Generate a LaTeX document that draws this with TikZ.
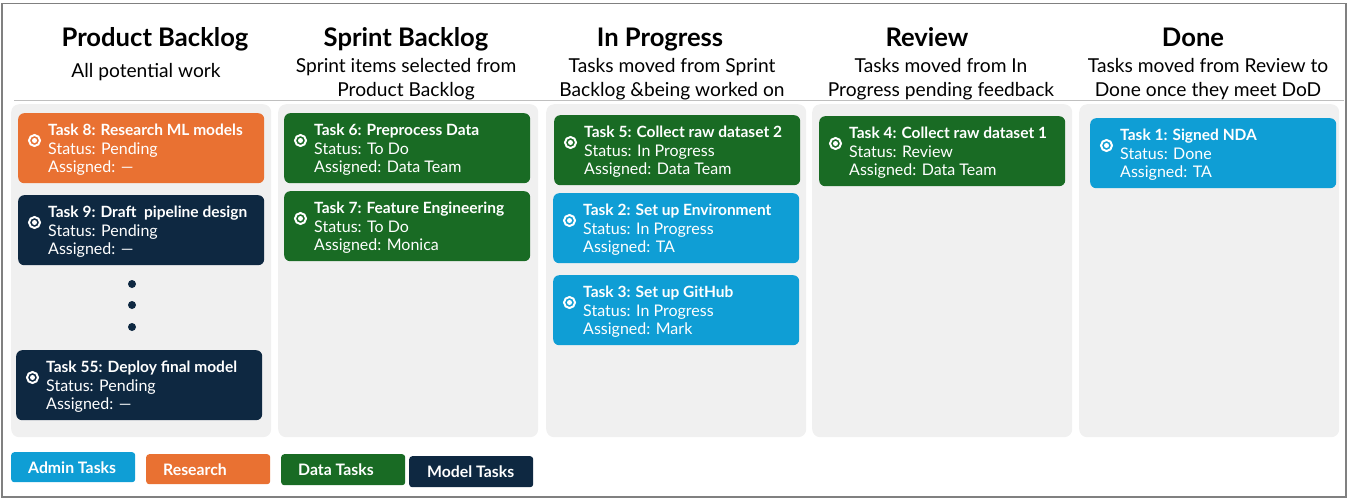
\documentclass[tikz,border=0pt]{standalone}
\usepackage{fontspec}
\setmainfont{Lato}
\definecolor{adminblue}{HTML}{0F9ED5}
\definecolor{researchorange}{HTML}{E97132}
\definecolor{datagreen}{HTML}{196B24}
\definecolor{modelnavy}{HTML}{0E2841}
\newcommand{\tasktitle}[1]{{\fontsize{15.5}{18}\selectfont\bfseries #1}\\[1pt]}
\tikzset{
  panel/.style={fill=black!6,rounded corners=8pt,anchor=north west,inner sep=0pt,minimum width=260pt,minimum height=333pt},
  card/.style={fill=#1,rounded corners=6pt,anchor=north west,inner sep=0pt,minimum width=246pt,minimum height=70pt},
  ring/.style={circle,draw=white,line width=2pt,inner sep=0pt,minimum size=11pt,path picture={\fill[white] (path picture bounding box.center) circle (2.5pt);}},
  cardtext/.style={anchor=north west,inner sep=0pt,text=white,align=left,font=\fontsize{16}{18}\selectfont},
  legend/.style={fill=#1,rounded corners=3pt,anchor=north west,inner sep=0pt,minimum width=124pt,minimum height=30pt},
  legendtext/.style={anchor=west,inner sep=0pt,text=white,font=\fontsize{15.8}{17}\selectfont\bfseries},
  head/.style={inner sep=0pt,anchor=base,font=\fontsize{25.6}{28}\selectfont\bfseries},
  subhead/.style={inner sep=0pt,align=center,font=\fontsize{19.2}{24}\selectfont},
  dot/.style={circle,fill=modelnavy,inner sep=0pt,minimum size=8pt}
}
\begin{document}
\begin{tikzpicture}[x=1pt,y=-1pt]
  \useasboundingbox (0,0) rectangle (1348,499);
  \draw[draw=black!50,line width=1.2pt] (2,3.5) rectangle (1346,497);

  \node[head] (h1) at (155,46) {Product Backlog};
  \node[head] (h2) at (406,46) {Sprint Backlog};
  \node[head] (h3) at (660,46) {In Progress};
  \node[head] (h4) at (927,46) {Review};
  \node[head] (h5) at (1193,46) {Done};
  \node[subhead] (s1) at (146,72) {All potential work};
  \node[subhead] (s2) at (406,79.5) {Sprint items selected from\\Product Backlog};
  \node[subhead] (s3) at (672,79.5) {Tasks moved from Sprint\\Backlog \&being worked on};
  \node[subhead] (s4) at (941,79.5) {Tasks moved from In\\Progress pending feedback};
  \node[subhead] (s5) at (1208,79.5) {Tasks moved from Review to\\Done once they meet DoD};

  \node[panel] (p1) at (11,104) {};
  \node[panel] (p2) at (278,104) {};
  \node[panel] (p3) at (546,104) {};
  \node[panel] (p4) at (812,104) {};
  \node[panel] (p5) at (1079,104) {};
  \draw[draw=black!25,line width=1.5pt] (14,100.5) -- (1344,100.5);

  \node[card=researchorange] (c8) at (18,113) {};
  \node[ring] (r8) at ([shift={(16.5,27.5)}]c8.north west) {};
  \node[cardtext] (t8) at ([shift={(30,11)}]c8.north west) {\tasktitle{Task 8: Research ML models}Status: Pending\\Assigned: ---};
  \node[card=modelnavy] (c9) at (18,195) {};
  \node[ring] (r9) at ([shift={(16.5,27.5)}]c9.north west) {};
  \node[cardtext] (t9) at ([shift={(30,11)}]c9.north west) {\tasktitle{Task 9: Draft\ \ pipeline design}Status: Pending\\Assigned: ---};
  \node[dot] (d1) at (132,284) {};
  \node[dot] (d2) at (132,305) {};
  \node[dot] (d3) at (132,327) {};
  \node[card=modelnavy] (c55) at (16,350) {};
  \node[ring] (r55) at ([shift={(16.5,27.5)}]c55.north west) {};
  \node[cardtext] (t55) at ([shift={(30,11)}]c55.north west) {\tasktitle{Task 55: Deploy final model}Status: Pending\\Assigned: ---};

  \node[card=datagreen] (c6) at (284,113) {};
  \node[ring] (r6) at ([shift={(16.5,27.5)}]c6.north west) {};
  \node[cardtext] (t6) at ([shift={(30,11)}]c6.north west) {\tasktitle{Task 6: Preprocess Data}Status: To Do\\Assigned: Data Team};
  \node[card=datagreen] (c7) at (284,191) {};
  \node[ring] (r7) at ([shift={(16.5,27.5)}]c7.north west) {};
  \node[cardtext] (t7) at ([shift={(30,11)}]c7.north west) {\tasktitle{Task 7: Feature Engineering}Status: To Do\\Assigned: Monica};

  \node[card=datagreen] (c5) at (554,115) {};
  \node[ring] (r5) at ([shift={(16.5,27.5)}]c5.north west) {};
  \node[cardtext] (t5) at ([shift={(30,11)}]c5.north west) {\tasktitle{Task 5: Collect raw dataset 2}Status: In Progress\\Assigned: Data Team};
  \node[card=adminblue] (c2) at (553,193) {};
  \node[ring] (r2) at ([shift={(16.5,27.5)}]c2.north west) {};
  \node[cardtext] (t2) at ([shift={(30,11)}]c2.north west) {\tasktitle{Task 2: Set up Environment}Status: In Progress\\Assigned: TA};
  \node[card=adminblue] (c3) at (553,275) {};
  \node[ring] (r3) at ([shift={(16.5,27.5)}]c3.north west) {};
  \node[cardtext] (t3) at ([shift={(30,11)}]c3.north west) {\tasktitle{Task 3: Set up GitHub}Status: In Progress\\Assigned: Mark};

  \node[card=datagreen] (c4) at (819,116) {};
  \node[ring] (r4) at ([shift={(16.5,27.5)}]c4.north west) {};
  \node[cardtext] (t4) at ([shift={(30,11)}]c4.north west) {\tasktitle{Task 4: Collect raw dataset 1}Status: Review\\Assigned: Data Team};

  \node[card=adminblue] (c1) at (1090,118) {};
  \node[ring] (r1) at ([shift={(16.5,27.5)}]c1.north west) {};
  \node[cardtext] (t1) at ([shift={(30,11)}]c1.north west) {\tasktitle{Task 1: Signed NDA}Status: Done\\Assigned: TA};

  \node[legend=adminblue] (l1) at (11,452) {};
  \node[legendtext] (lt1) at ([xshift=17pt]l1.west) {Admin Tasks};
  \node[legend=researchorange] (l2) at (146,454) {};
  \node[legendtext] (lt2) at ([xshift=17pt]l2.west) {Research};
  \node[legend=datagreen,minimum height=31pt] (l3) at (281,454) {};
  \node[legendtext] (lt3) at ([xshift=17pt]l3.west) {Data Tasks};
  \node[legend=modelnavy,minimum height=31pt] (l4) at (409,456) {};
  \node[legendtext] (lt4) at ([xshift=18pt]l4.west) {Model Tasks};
\end{tikzpicture}
\end{document}
